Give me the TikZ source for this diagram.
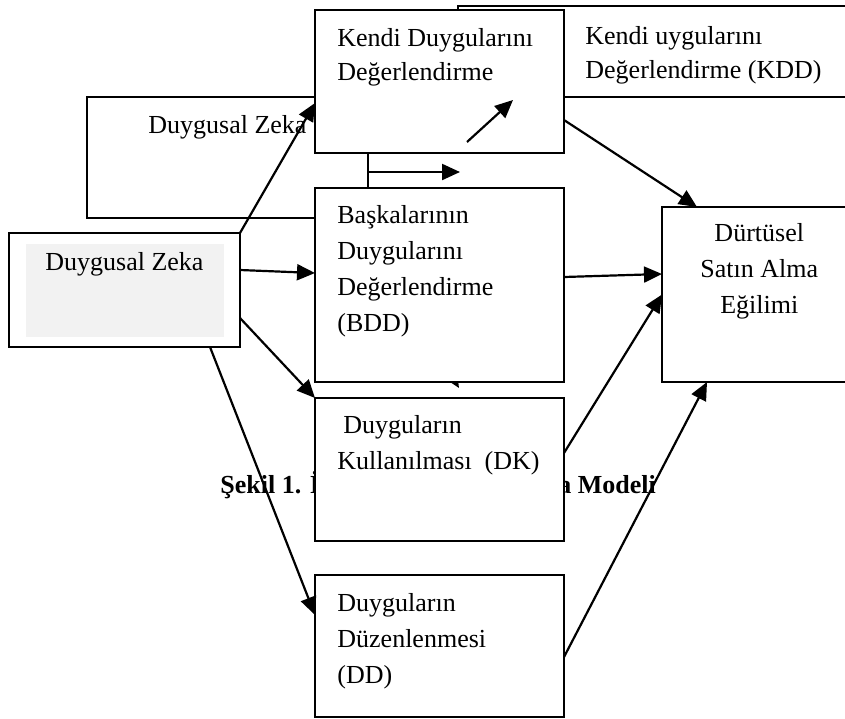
\documentclass[tikz,border=0pt]{standalone}
\usepackage{fontspec}
\setmainfont{Liberation Serif}
\usetikzlibrary{positioning,arrows.meta}

\begin{document}
\begin{tikzpicture}[x=0.5pt,y=-0.5pt,
    box/.style={draw,fill=white,line width=1pt,inner sep=0pt,outer sep=0pt,anchor=north west},
    col/.style={box,minimum width=124.5pt},
    txt/.style={font=\fontsize{13}{18}\selectfont,align=left,inner sep=0pt},
    captxt/.style={inner sep=0pt,font=\fontsize{13}{18}\selectfont\bfseries,anchor=base west},
    arr/.style={-{Triangle[length=9pt,width=8pt]},line width=1.1pt}]
  \useasboundingbox (0,0) rectangle (845,718);

  % boxes lying behind
  \node[box,minimum width=201pt,minimum height=45.5pt] (kddback) at (458,6) {};
  \node[txt,font=\fontsize{13}{17}\selectfont,below right=10pt and 63.5pt of kddback.north west] (kddbackt) {Kendi uygularını\\Değerlendirme (KDD)};
  \node[box,minimum width=140.5pt,minimum height=60.5pt] (back) at (87,97) {};
  \node[txt,below right=9pt and 30.5pt of back.north west] (backt) {Duygusal Zeka};

  % caption, half covered
  \node[captxt] (capl) at (220,493) {Şekil 1. İ};
  \node[captxt] (capr) at (558,493) {a Modeli};

  % arrow hidden under BDD
  \coordinate (hida) at (428,337);
  \coordinate (hidb) at (459,388);
  \draw[arr] (hida) -- (hidb);

  % main boxes
  \node[col,minimum height=71.5pt] (kdd) at (315,10) {};
  \node[col,minimum height=97pt,below=17.5pt of kdd] (bdd) {};
  \node[col,minimum height=71.5pt,below=8pt of bdd] (dk) {};
  \node[col,minimum height=71pt,below=17pt of dk] (dd) {};
  \node[box,minimum width=115.5pt,minimum height=57pt] (dz) at (9,233) {};
  \node[fill=gray!10,inner sep=0pt,anchor=north west,minimum width=99pt,minimum height=46.5pt] (dzfill) at ([shift={(8.5pt,-5.5pt)}]dz.north west) {};
  \node[box,minimum width=100pt,minimum height=87.5pt] (dsa) at (662,207) {};

  \node[txt,font=\fontsize{13}{17}\selectfont,below right=9pt and 11pt of kdd.north west] (kddt) {Kendi Duygularını\\Değerlendirme};
  \node[txt,below right=8.5pt and 11pt of bdd.north west] (bddt) {Başkalarının\\Duygularını\\Değerlendirme\\(BDD)};
  \node[txt,below right=8.5pt and 11pt of dk.north west] (dkt) {\hspace*{3pt}Duyguların\\Kullanılması\ \ (DK)};
  \node[txt,below right=9pt and 11pt of dd.north west] (ddt) {Duyguların\\Düzenlenmesi\\(DD)};
  \node[txt,below right=9.5pt and 18pt of dz.north west] (dzt) {Duygusal Zeka};
  \node[txt,align=center,below right=8pt and 19pt of dsa.north west] (dsat) {Dürtüsel\\Satın Alma\\Eğilimi};

  % connectors
  \coordinate (kin) at (467,142);
  \coordinate (kout) at (513,100);
  \coordinate (gapend) at (460,172);
  \draw[arr] (dz.north east) -- ([yshift=-10.75pt]kdd.west);
  \draw[arr] (kin) -- (kout);
  \draw[arr] ([yshift=-7.25pt]back.east) -- (gapend);
  \draw[arr] ([yshift=10pt]dz.east) -- ([yshift=6pt]bdd.west);
  \draw[arr] ([yshift=-14pt]dz.east) -- (dk.north west);
  \draw[arr] ([xshift=42.75pt]dz.south) -- ([yshift=15.5pt]dd.west);
  \draw[arr] ([yshift=-19.25pt]kdd.east) -- ([xshift=17.5pt]dsa.north west);
  \draw[arr] ([yshift=4pt]bdd.east) -- ([yshift=10.25pt]dsa.west);
  \draw[arr] ([yshift=8.25pt]dk.east) -- (dsa.west);
  \draw[arr] ([yshift=-5.5pt]dd.east) -- ([xshift=22.5pt]dsa.south west);
\end{tikzpicture}
\end{document}
